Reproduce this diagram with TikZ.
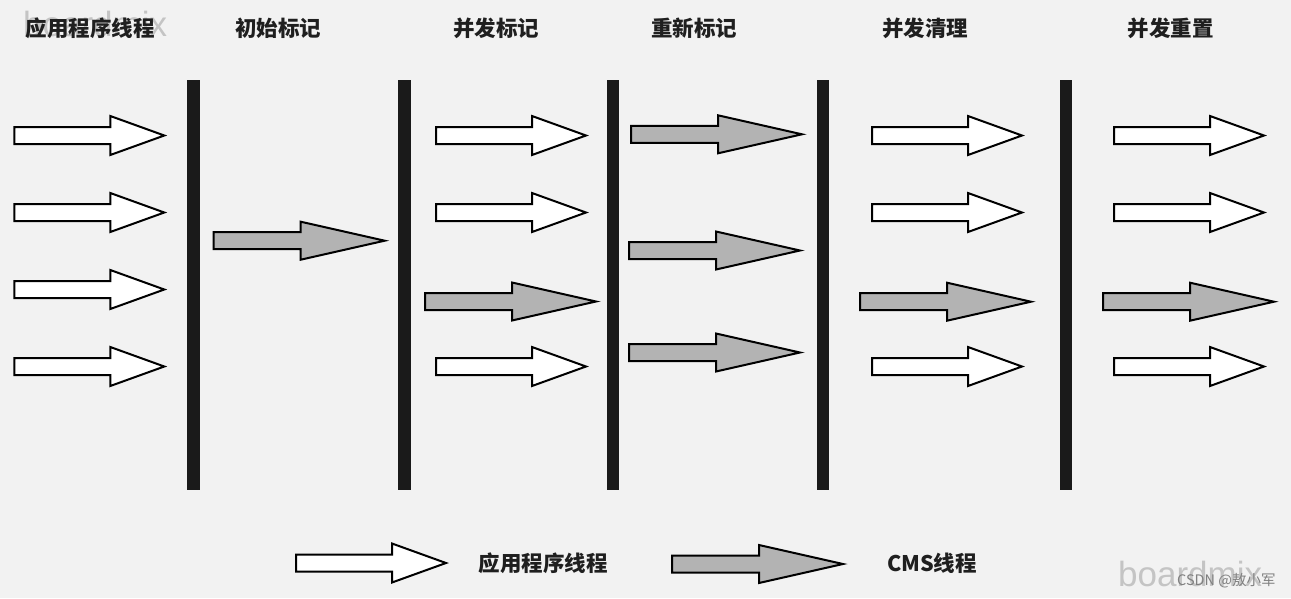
\documentclass[tikz,border=0pt]{standalone}
\usepackage{fontspec}
\setmainfont{Noto Sans CJK SC}
\newfontfamily\wmfont{Liberation Sans}
\definecolor{bg}{HTML}{F2F2F2}
\definecolor{barc}{HTML}{1A1A1A}
\definecolor{cmsfill}{HTML}{B3B3B3}
\definecolor{wmc}{HTML}{C4C4C4}
\definecolor{csdnc}{HTML}{808080}
\begin{document}
\begin{tikzpicture}[x=1pt,y=-1pt,
  outl/.style={draw=black,line width=2pt,line join=miter},
  warrow/.pic={\path[outl,fill=white] (0,-8.5) -- (96,-8.5) -- (96,-19.5) -- (150,0) -- (96,19.5) -- (96,8.5) -- (0,8.5) -- cycle;},
  garrow/.pic={\path[outl,fill=cmsfill] (0,-8.5) -- (87,-8.5) -- (87,-19) -- (171,0) -- (87,19) -- (87,8.5) -- (0,8.5) -- cycle;},
  barline/.style={fill=barc},
  lab/.style={font=\bfseries\fontsize{21.5}{24}\selectfont, text=black!88, inner sep=0pt},
  wm/.style={font=\wmfont\fontsize{35}{40}\selectfont, text=wmc, anchor=base west, inner sep=0pt}
]
\useasboundingbox (0,0) rectangle (1291,598);
\fill[bg] (0,0) rectangle (1291,598);

% watermark behind
\node[wm] (wmtop) at (23,36) {boardmix};
\node[wm] (wmbot) at (1118,586) {boardmix};

% bars
\fill[barline] (187.3,80) rectangle (199.7,490);
\fill[barline] (398.3,80) rectangle (410.7,490);
\fill[barline] (606.7,80) rectangle (618.7,490);
\fill[barline] (817.3,80) rectangle (829.3,490);
\fill[barline] (1060,80) rectangle (1071.7,490);

% labels
\node[lab] (l1) at (90,28) {应用程序线程};
\node[lab] (l2) at (278.3,28) {初始标记};
\node[lab] (l3) at (496,28) {并发标记};
\node[lab] (l4) at (694.2,28) {重新标记};
\node[lab] (l5) at (925.2,28) {并发清理};
\node[lab] (l6) at (1170.5,28) {并发重置};

% column 1
\pic (a11) at (14.3,135.5) {warrow};
\pic (a12) at (14.3,212.5) {warrow};
\pic (a13) at (14.3,289.5) {warrow};
\pic (a14) at (14.3,366.5) {warrow};
% column 2
\pic (a21) at (213.7,240.7) {garrow};
% column 3
\pic (a31) at (436,135.5) {warrow};
\pic (a32) at (436,212.5) {warrow};
\pic (a33) at (425,301.5) {garrow};
\pic (a34) at (436,366.5) {warrow};
% column 4
\pic (a41) at (631,134.3) {garrow};
\pic (a42) at (629,250.5) {garrow};
\pic (a43) at (629,352.5) {garrow};
% column 5
\pic (a51) at (872,135.5) {warrow};
\pic (a52) at (872,212.5) {warrow};
\pic (a53) at (860,301.7) {garrow};
\pic (a54) at (872,366.5) {warrow};
% column 6
\pic (a61) at (1114,135.5) {warrow};
\pic (a62) at (1114,212.5) {warrow};
\pic (a63) at (1103,301.7) {garrow};
\pic (a64) at (1114,366.5) {warrow};

% legend
\pic (legw) at (296,563) {warrow};
\node[lab] (legwt) at (543,563) {应用程序线程};
\pic (legg) at (672,564) {garrow};
\node[lab] (leggt) at (932,563) {CMS线程};

\node[font=\fontsize{14.5}{16}\selectfont, text=csdnc, anchor=west, inner sep=0pt] (csdn) at (1177,581) {CSDN @敖小军};
\end{tikzpicture}
\end{document}
